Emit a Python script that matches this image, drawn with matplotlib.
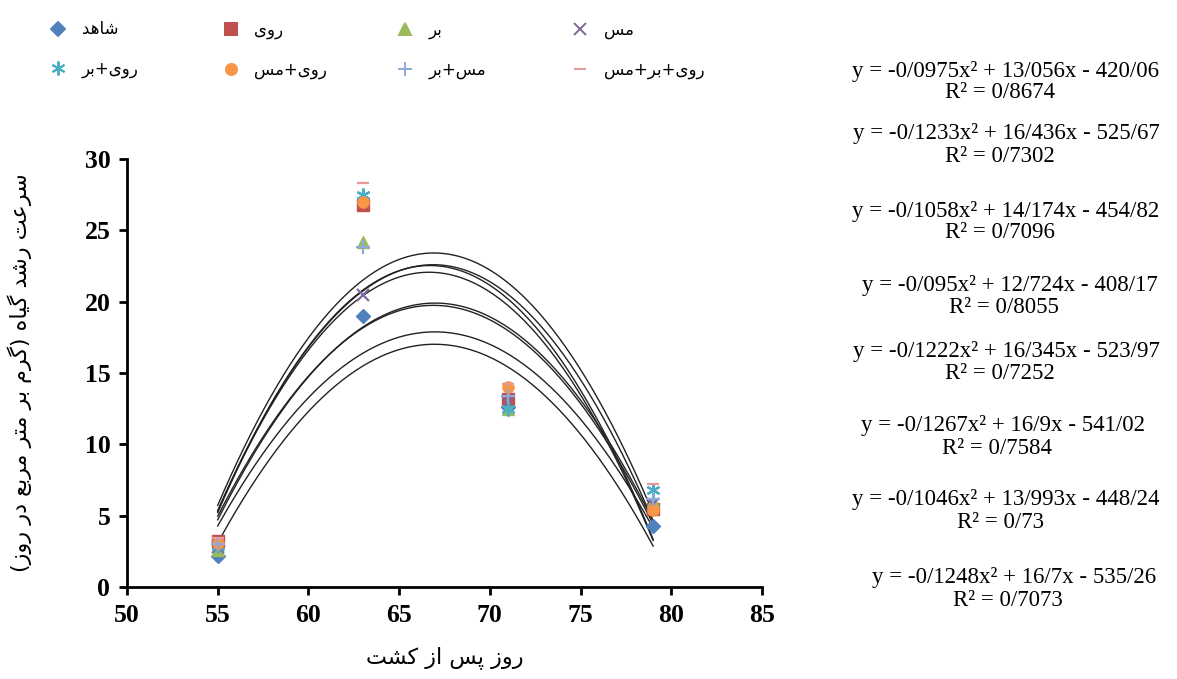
import matplotlib
matplotlib.use("Agg")
import matplotlib.pyplot as plt
from matplotlib.lines import Line2D
import numpy as np

# ---- data ----
names = ["شاهد", "روی", "بر", "مس", "روی+بر", "روی+مس", "مس+بر", "روی+بر+مس"]
days = [55, 63, 71, 79]
shahed = [2.2, 19.0, 12.6, 4.3]
ruy = [3.2, 26.8, 13.2, 5.5]
bor = [2.6, 24.2, 12.5, 6.0]
mes = [2.8, 20.5, 13.0, 5.8]
ruy_bor = [2.9, 27.5, 12.5, 6.8]
ruy_mes = [3.1, 27.0, 14.0, 5.4]
mes_bor = [3.0, 23.8, 13.4, 6.2]
ruy_bor_mes = [3.4, 28.3, 14.2, 7.2]
series = [shahed, ruy, bor, mes, ruy_bor, ruy_mes, mes_bor, ruy_bor_mes]

# quadratic trend lines as printed: a x^2 + b x + c
coef_a = [-0.0975, -0.1233, -0.1058, -0.095, -0.1222, -0.1267, -0.1046, -0.1248]
coef_b = [13.056, 16.436, 14.174, 12.724, 16.345, 16.9, 13.993, 16.7]
coef_c = [-420.06, -525.67, -454.82, -408.17, -523.97, -541.02, -448.24, -535.26]
r2 = [0.8674, 0.7302, 0.7096, 0.8055, 0.7252, 0.7584, 0.73, 0.7073]

x_label = "روز پس از کشت"
y_label = "سرعت رشد گیاه (گرم بر متر مربع در روز)"

colors = ["#4F81BD", "#C0504D", "#9BBB59", "#7E6B9E", "#4BACC6", "#F79646", "#8EA9DB", "#E29A9A"]
markers = ["D", "s", "^", "x", (6, 2, 0), "o", "+", "_"]
msizes = [7, 8, 8, 9, 10, 8, 10, 8]

# ---- minimal Persian shaping (matplotlib has no RTL support) ----
FORMS = {
    "ا": ("\uFE8D", "\uFE8E", None, None),
    "ب": ("\uFE8F", "\uFE90", "\uFE91", "\uFE92"),
    "ت": ("\uFE95", "\uFE96", "\uFE97", "\uFE98"),
    "د": ("\uFEA9", "\uFEAA", None, None),
    "ر": ("\uFEAD", "\uFEAE", None, None),
    "ز": ("\uFEAF", "\uFEB0", None, None),
    "س": ("\uFEB1", "\uFEB2", "\uFEB3", "\uFEB4"),
    "ش": ("\uFEB5", "\uFEB6", "\uFEB7", "\uFEB8"),
    "ع": ("\uFEC9", "\uFECA", "\uFECB", "\uFECC"),
    "م": ("\uFEE1", "\uFEE2", "\uFEE3", "\uFEE4"),
    "ن": ("\uFEE5", "\uFEE6", "\uFEE7", "\uFEE8"),
    "ه": ("\uFEE9", "\uFEEA", "\uFEEB", "\uFEEC"),
    "و": ("\uFEED", "\uFEEE", None, None),
    "پ": ("\uFB56", "\uFB57", "\uFB58", "\uFB59"),
    "ک": ("\uFB8E", "\uFB8F", "\uFB90", "\uFB91"),
    "گ": ("\uFB92", "\uFB93", "\uFB94", "\uFB95"),
    "ی": ("\uFBFC", "\uFBFD", "\uFBFE", "\uFBFF"),
}
RIGHT_ONLY = set("ادذرزژو")


def fa(text):
    out = []
    for i, ch in enumerate(text):
        if ch not in FORMS:
            out.append(ch)
            continue
        prev = text[i - 1] if i > 0 else None
        nxt = text[i + 1] if i + 1 < len(text) else None
        jp = prev in FORMS and prev not in RIGHT_ONLY
        jn = nxt in FORMS and ch not in RIGHT_ONLY
        iso, fin, ini, med = FORMS[ch]
        if jp and jn:
            out.append(med)
        elif jp:
            out.append(fin)
        elif jn:
            out.append(ini)
        else:
            out.append(iso)
    s = "".join(out)[::-1]
    return s.translate(str.maketrans("()", ")("))


def num(v):
    return f"{abs(v):g}".replace(".", "/")


fig = plt.figure(figsize=(11.77, 6.79), dpi=100)
ax = fig.add_axes([0.1079, 0.1355, 0.5395, 0.6303])

for i, ys in enumerate(series):
    ax.plot(days, ys, linestyle="none", marker=markers[i], color=colors[i],
            markersize=msizes[i], markeredgewidth=1.6 if i in (3, 4, 6, 7) else 1,
            zorder=3)
    xs = np.linspace(min(days), max(days), 200)
    ax.plot(xs, np.polyval([coef_a[i], coef_b[i], coef_c[i]], xs),
            color="#222222", lw=1.0, zorder=2)

ax.set_xlim(50, 85)
ax.set_ylim(0, 30)
ax.set_xticks(np.arange(50, 86, 5))
ax.set_yticks(np.arange(0, 31, 5))
for s in ["top", "right"]:
    ax.spines[s].set_visible(False)
for s in ["left", "bottom"]:
    ax.spines[s].set_linewidth(2)
ax.tick_params(direction="out", length=6, width=2, pad=6)
for lab in ax.get_xticklabels() + ax.get_yticklabels():
    lab.set_fontfamily("Liberation Serif")
    lab.set_fontweight("bold")
    lab.set_fontsize(18.5)

ax.set_xlabel(fa(x_label), fontsize=16, fontfamily="DejaVu Sans", labelpad=14)
ax.set_ylabel(fa(y_label), fontsize=16, fontfamily="DejaVu Sans")
ax.yaxis.set_label_coords(-0.15, 0.5)

# legend: one two-row legend per column
handles = [Line2D([], [], linestyle="none", marker=markers[i], color=colors[i],
                  markersize=msizes[i], markeredgewidth=1.4) for i in range(8)]
col_x = [0.0425, 0.189, 0.337, 0.486]
for c in range(4):
    fig.legend([handles[c], handles[c + 4]], [fa(names[c]), fa(names[c + 4])],
               loc="upper left", bbox_to_anchor=(col_x[c], 0.97), frameon=False,
               handlelength=1, handletextpad=0.9, borderpad=0, borderaxespad=0,
               labelspacing=1.3, prop={"family": "DejaVu Sans", "size": 12})

# trend line equations
eq_y = [72, 134, 211, 285, 351, 426, 500, 578]
r_y = [93, 156, 233, 308, 373, 448, 523, 600]
eq_x = [1006, 1006, 1006, 1010, 1006, 1003, 1006, 1014]
for i in range(8):
    eq = f"y = -{num(coef_a[i])}x² + {num(coef_b[i])}x - {num(coef_c[i])}"
    fig.text(eq_x[i] / 1177, 1 - eq_y[i] / 679, eq, ha="center", va="center",
             fontsize=16.5, fontfamily="Liberation Serif")
    fig.text(eq_x[i] / 1177 - 0.005, 1 - r_y[i] / 679, f"R² = {num(r2[i])}",
             ha="center", va="center", fontsize=16.5, fontfamily="Liberation Serif")

fig.savefig("out.png", dpi=100)
